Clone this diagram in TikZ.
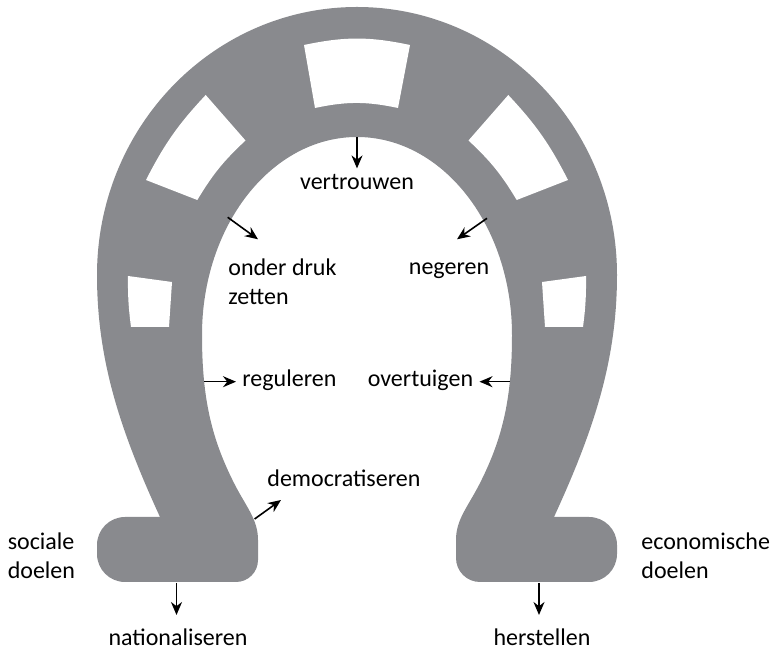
\documentclass[tikz,border=0pt]{standalone}
\usepackage{fontspec}
\setmainfont{Carlito}
\usetikzlibrary{arrows.meta}
\definecolor{hoefgrijs}{RGB}{137,138,142}
\tikzset{
  lbl/.style={font=\fontsize{12}{14.5}\selectfont, inner sep=3pt},
  pijl/.style={-{Stealth[length=6.5pt,width=5.5pt]}, line width=0.8pt},
  gat/.style={fill=white}
}
\begin{document}
\begin{tikzpicture}[x=0.5pt,y=0.5pt]
  \useasboundingbox (0,0) rectangle (772,-651);
  \fill[hoefgrijs] (160,-517) .. controls (120,-430) and (97,-360) .. (97,-275) % buitenkant linkerbeen
    arc[start angle=180, end angle=0, x radius=260, y radius=268] % buitenboog
    .. controls (617,-360) and (594,-430) .. (554,-517) % buitenkant rechterbeen
    -- (589,-517) arc[start angle=90, end angle=0, radius=28] -- (617,-554) arc[start angle=0, end angle=-90, radius=28]
    -- (480,-582) arc[start angle=270, end angle=180, radius=24] -- (456,-540) % rechtervoet
    .. controls (456,-520) and (467,-508) .. (479,-485) .. controls (502,-440) and (512,-400) .. (512,-335) % binnenkant rechterbeen
    arc[start angle=0, end angle=180, x radius=155, y radius=198] % binnenboog
    .. controls (202,-400) and (212,-440) .. (235,-485) .. controls (247,-508) and (258,-520) .. (258,-540) % binnenkant linkerbeen
    -- (258,-560) arc[start angle=0, end angle=-90, radius=22] -- (125,-582) arc[start angle=270, end angle=180, radius=28]
    -- (97,-545) arc[start angle=180, end angle=90, radius=28] -- cycle; % linkervoet
  \fill[gat] (304,-45) to[bend left=12] (410,-45) -- (398,-108) to[bend right=12] (315,-108) -- cycle; % gat boven
  \fill[gat] (146,-180) to[bend left=8] (205.7,-95) -- (245.5,-140.5) to[bend right=8] (197.3,-200) -- cycle; % gat linksboven
  \fill[gat] (568,-180) to[bend right=8] (508.3,-95) -- (468.5,-140.5) to[bend left=8] (516.7,-200) -- cycle; % gat rechtsboven
  \fill[gat] (131,-327) to[bend left=4] (128,-276) -- (172,-282) -- (169,-327) -- cycle; % gat linksonder
  \fill[gat] (583,-327) to[bend right=4] (586,-276) -- (542,-282) -- (545,-327) -- cycle; % gat rechtsonder

  \node[lbl, anchor=base] (vertrouwen) at (357,-190) {vertrouwen};
  \node[lbl, anchor=north west, align=left] (drukzetten) at (222,-252) {onder druk\\zetten};
  \node[lbl, anchor=base west] (negeren) at (402.5,-275) {negeren};
  \node[lbl, anchor=base west] (reguleren) at (236,-386.7) {reguleren};
  \node[lbl, anchor=base east] (overtuigen) at (479.5,-386.7) {overtuigen};
  \node[lbl, anchor=base west] (democratiseren) at (261,-486.7) {democratiseren};
  \node[lbl, anchor=base] (nationaliseren) at (178,-646) {nationaliseren};
  \node[lbl, anchor=base] (herstellen) at (542,-646) {herstellen};
  \node[lbl, anchor=north west, align=left] (sociaal) at (1.4,-526) {sociale\\doelen};
  \node[lbl, anchor=north west, align=left] (economisch) at (635,-526) {economische\\doelen};

  \coordinate (v0) at (357,-137); % binnenboog boven
  \coordinate (d0) at (227.7,-217.3); \coordinate (d1) at (258,-239.3);
  \coordinate (n0) at (487,-218.3); \coordinate (n1) at (457,-239.3);
  \coordinate (r0) at (204,-381.7);
  \coordinate (o0) at (510,-381.7);
  \coordinate (dm0) at (254.6,-519); \coordinate (dm1) at (281,-500);
  \coordinate (na0) at (176.5,-583); \coordinate (na1) at (176.5,-615);
  \coordinate (h0) at (539,-583); \coordinate (h1) at (539,-615);

  \draw[pijl] (v0) -- (vertrouwen.north);
  \draw[pijl] (d0) -- (d1); % naar onder druk zetten
  \draw[pijl] (n0) -- (n1); % naar negeren
  \draw[pijl] (r0) -- (r0 -| reguleren.west);
  \draw[pijl] (o0) -- (o0 -| overtuigen.east);
  \draw[pijl] (dm0) -- (dm1); % naar democratiseren
  \draw[pijl] (na0) -- (na1); % naar nationaliseren
  \draw[pijl] (h0) -- (h1); % naar herstellen
\end{tikzpicture}
\end{document}
